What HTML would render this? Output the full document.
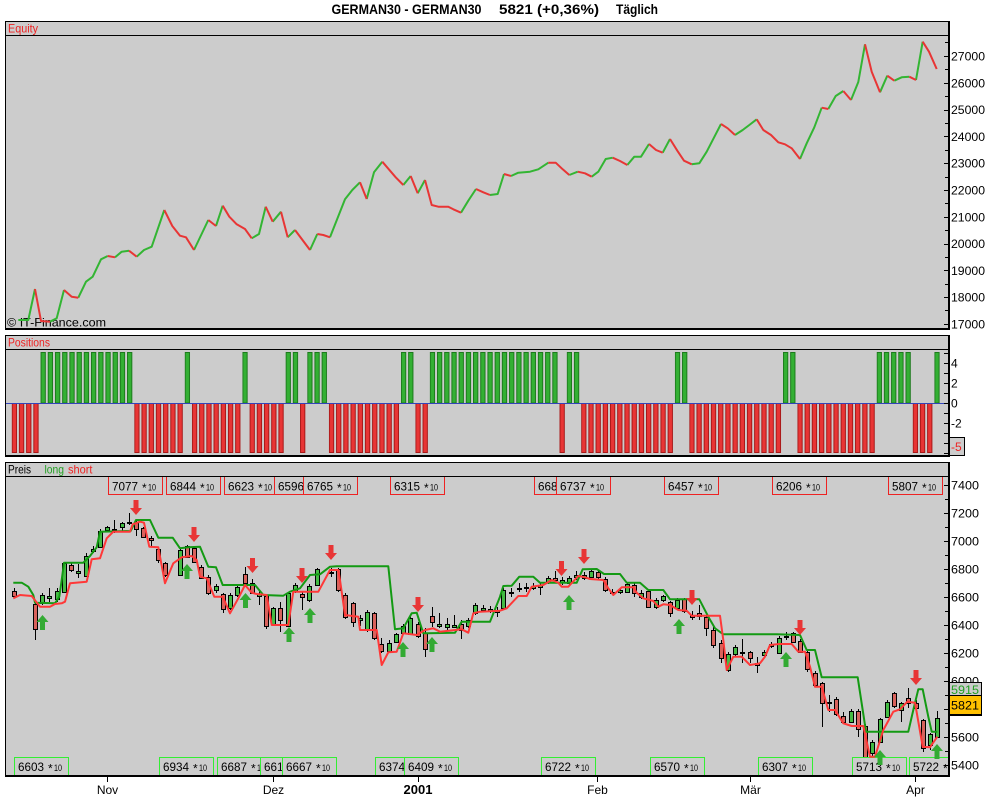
<!DOCTYPE html>
<html><head><meta charset="utf-8"><style>
html,body{margin:0;padding:0;background:#fff;}
svg{display:block;}
text{font-family:"Liberation Sans",sans-serif;}
</style></head><body>
<svg width="1000" height="800" viewBox="0 0 1000 800" xmlns="http://www.w3.org/2000/svg">
<defs>
<clipPath id="cp"><rect x="6" y="477" width="942" height="298"/></clipPath>
<pattern id="pg" patternUnits="userSpaceOnUse" x="11.7" y="0" width="7.208" height="800"><rect x="0.5" y="352.5" width="4.3" height="50.5" fill="#33b033" stroke="#1c7a1c"/></pattern>
<pattern id="pr" patternUnits="userSpaceOnUse" x="11.7" y="0" width="7.208" height="800"><rect x="0.5" y="403.5" width="4.3" height="49" fill="#e83535" stroke="#a81818"/></pattern>
</defs>
<rect width="1000" height="800" fill="#fff"/>

<!-- Title -->
<text x="331.5" y="14" font-size="14" font-weight="bold" textLength="150" lengthAdjust="spacingAndGlyphs">GERMAN30 - GERMAN30</text>
<text x="499" y="14" font-size="14" font-weight="bold" textLength="100" lengthAdjust="spacingAndGlyphs">5821 (+0,36%)</text>
<text x="616" y="14" font-size="14" font-weight="bold" textLength="42" lengthAdjust="spacingAndGlyphs">Täglich</text>

<!-- ===== Equity panel ===== -->
<rect x="5" y="21" width="945" height="309" fill="#cccccc"/>
<line x1="5" y1="21.5" x2="950" y2="21.5" stroke="#000"/>
<line x1="5.5" y1="21" x2="5.5" y2="330" stroke="#000"/>
<line x1="5" y1="35.5" x2="948" y2="35.5" stroke="#000"/>
<rect x="948" y="21" width="2" height="309" fill="#000"/>
<rect x="5" y="328" width="945" height="2" fill="#000"/>
<text x="8" y="32.5" font-size="12" fill="#ee2222" textLength="30" lengthAdjust="spacingAndGlyphs">Equity</text>
<text x="7" y="326.5" font-size="12" fill="#000" textLength="99" lengthAdjust="spacingAndGlyphs">© IT-Finance.com</text>

<g stroke="#000" stroke-width="1">
<path d="M944 56.5H950M944 83.5H950M944 110.5H950M944 136.5H950M944 163.5H950M944 190.5H950M944 217.5H950M944 244.5H950M944 270.5H950M944 297.5H950M944 324.5H950M945 42.5H950M945 69.5H950M945 96.5H950M945 123.5H950M945 150.5H950M945 177.5H950M945 203.5H950M945 230.5H950M945 257.5H950M945 284.5H950M945 310.5H950"/>
</g>
<g font-size="12" fill="#000">
<text x="951" y="60.5" textLength="34" lengthAdjust="spacingAndGlyphs">27000</text>
<text x="951" y="87.3" textLength="34" lengthAdjust="spacingAndGlyphs">26000</text>
<text x="951" y="114" textLength="34" lengthAdjust="spacingAndGlyphs">25000</text>
<text x="951" y="141" textLength="34" lengthAdjust="spacingAndGlyphs">24000</text>
<text x="951" y="167.7" textLength="34" lengthAdjust="spacingAndGlyphs">23000</text>
<text x="951" y="194.5" textLength="34" lengthAdjust="spacingAndGlyphs">22000</text>
<text x="951" y="221.3" textLength="34" lengthAdjust="spacingAndGlyphs">21000</text>
<text x="951" y="248" textLength="34" lengthAdjust="spacingAndGlyphs">20000</text>
<text x="951" y="275" textLength="34" lengthAdjust="spacingAndGlyphs">19000</text>
<text x="951" y="301.7" textLength="34" lengthAdjust="spacingAndGlyphs">18000</text>
<text x="951" y="328.5" textLength="34" lengthAdjust="spacingAndGlyphs">17000</text>
</g>

<g fill="none" stroke-width="2" stroke-linejoin="round">
<g stroke="#33b533">
<polyline points="18.3,320 28.3,320 35,289"/>
<polyline points="50,321.7 56.7,318.3 64,290"/>
<polyline points="78.3,297.7 86,281.7 92.7,276.7 101,259.3 107.7,256"/>
<polyline points="115,257.3 121.7,251.7 129,250.7"/>
<polyline points="136.7,256.7 144,250 151.7,246.7 164.3,210"/>
<polyline points="194,250 208.3,220"/>
<polyline points="216,226 222.7,205.7"/>
<polyline points="251.7,238.3 259,234 265.7,206.7"/>
<polyline points="272.7,221.7 281,211.7"/>
<polyline points="287.7,237.3 295,230"/>
<polyline points="310,250 317.3,234"/>
<polyline points="330,237.3 345,199.3 352.3,190 360,182.3"/>
<polyline points="366.7,199 374,172.3 382.3,161.7"/>
<polyline points="403.3,185 410.7,176"/>
<polyline points="417.7,193.3 425,180"/>
<polyline points="461,212.7 468.3,200.7 476,189"/>
<polyline points="490,195 497.7,194 504,174"/>
<polyline points="511,176 518.3,172.7 530,171.7 538.3,169.3 548.3,162.7"/>
<polyline points="569.3,175 577.7,171.7"/>
<polyline points="591.7,176.7 598.3,171.7 605.7,159 612.7,157.7"/>
<polyline points="627.3,165 634.3,156.7 641,156.7 649,144"/>
<polyline points="662.7,152.7 670,139"/>
<polyline points="691.7,164.3 699.3,163.3 706.7,151.7 721,124"/>
<polyline points="735,135 742.7,130 749.3,125 756.7,119.3"/>
<polyline points="800,159 806.7,143.3 814.3,127.3 821.7,107.7"/>
<polyline points="828.3,109 835.7,96 843.3,91"/>
<polyline points="851,100 858.3,82 865,44.3"/>
<polyline points="880,92.3 887.3,75.7"/>
<polyline points="894.3,80.7 901.7,77.3 909.3,76.7"/>
<polyline points="916,80 922.7,41.7"/>
</g>
<g stroke="#e83535">
<polyline points="35,289 41,321 50,321.7"/>
<polyline points="64,290 71.7,296.7 78.3,297.7"/>
<polyline points="107.7,256 115,257.3"/>
<polyline points="129,250.7 136.7,256.7"/>
<polyline points="164.3,210 172.3,226 180,235.7 186,237.3 194,250"/>
<polyline points="208.3,220 216,226"/>
<polyline points="222.7,205.7 229.3,216.7 236.7,224.3 245,229 251.7,238.3"/>
<polyline points="265.7,206.7 272.7,221.7"/>
<polyline points="281,211.7 287.7,237.3"/>
<polyline points="295,230 310,250"/>
<polyline points="317.3,234 323.3,235 330,237.3"/>
<polyline points="360,182.3 366.7,199"/>
<polyline points="382.3,161.7 395.7,177.3 403.3,185"/>
<polyline points="410.7,176 417.7,193.3"/>
<polyline points="425,180 431.7,205 438.3,206.7 448.3,206.7 453.3,209.3 461,212.7"/>
<polyline points="476,189 483.3,192.3 490,195"/>
<polyline points="504,174 511,176"/>
<polyline points="548.3,162.7 555.7,162.7 562.7,169.3 569.3,175"/>
<polyline points="577.7,171.7 585,173.3 591.7,176.7"/>
<polyline points="612.7,157.7 620,161 627.3,165"/>
<polyline points="649,144 656,150 662.7,152.7"/>
<polyline points="670,139 677.3,150.7 684,160.7 691.7,164.3"/>
<polyline points="721,124 727.7,128.3 735,135"/>
<polyline points="756.7,119.3 763.3,130 771,135 778.3,142.3 785,144.3 791.7,148.3 800,159"/>
<polyline points="821.7,107.7 828.3,109"/>
<polyline points="843.3,91 851,100"/>
<polyline points="865,44.3 871.7,71.7 880,92.3"/>
<polyline points="887.3,75.7 894.3,80.7"/>
<polyline points="909.3,76.7 916,80"/>
<polyline points="922.7,41.7 929,51.7 936.7,69"/>
</g>
</g>

<!-- ===== Positions panel ===== -->
<rect x="5" y="335" width="945" height="122" fill="#cccccc"/>
<line x1="5" y1="335.5" x2="950" y2="335.5" stroke="#000"/>
<line x1="5.5" y1="335" x2="5.5" y2="457" stroke="#000"/>
<line x1="5" y1="349.5" x2="948" y2="349.5" stroke="#000"/>
<rect x="948" y="335" width="2" height="122" fill="#000"/>
<rect x="5" y="455" width="945" height="2" fill="#000"/>
<text x="8" y="346.5" font-size="12" fill="#ee2222" textLength="42" lengthAdjust="spacingAndGlyphs">Positions</text>

<g fill="url(#pr)">
<rect x="11.7" y="403" width="27.3" height="50"/>
<rect x="134.24" y="403" width="49" height="50"/>
<rect x="191.9" y="403" width="49" height="50"/>
<rect x="249.56" y="403" width="34.5" height="50"/>
<rect x="300.02" y="403" width="5.7" height="50"/>
<rect x="328.85" y="403" width="70.6" height="50"/>
<rect x="415.35" y="403" width="12.9" height="50"/>
<rect x="559.51" y="403" width="5.7" height="50"/>
<rect x="581.13" y="403" width="92.2" height="50"/>
<rect x="689.25" y="403" width="92.2" height="50"/>
<rect x="797.37" y="403" width="77.8" height="50"/>
<rect x="912.7" y="403" width="20.1" height="50"/>
</g>
<g fill="url(#pg)">
<rect x="40.53" y="352" width="92.2" height="52"/>
<rect x="184.69" y="352" width="5.7" height="52"/>
<rect x="242.36" y="352" width="5.7" height="52"/>
<rect x="285.6" y="352" width="12.9" height="52"/>
<rect x="307.23" y="352" width="20.1" height="52"/>
<rect x="400.93" y="352" width="12.9" height="52"/>
<rect x="429.76" y="352" width="128.2" height="52"/>
<rect x="566.72" y="352" width="12.9" height="52"/>
<rect x="674.84" y="352" width="12.9" height="52"/>
<rect x="782.96" y="352" width="12.9" height="52"/>
<rect x="876.66" y="352" width="34.5" height="52"/>
<rect x="934.32" y="352" width="5.7" height="52"/>
</g>
<line x1="6" y1="403.5" x2="948" y2="403.5" stroke="#3344bb"/>

<path d="M944 353.5H950M944 363.5H950M944 373.5H950M944 383.5H950M944 393.5H950M944 403.5H950M944 413.5H950M944 423.5H950M944 433.5H950M944 443.5H950M944 453.5H950" stroke="#000"/>
<g font-size="12" fill="#000">
<text x="951" y="367.5">4</text>
<text x="951" y="387.5">2</text>
<text x="951" y="407.5">0</text>
<text x="951" y="427.5">-2</text>
</g>
<rect x="949.5" y="437.5" width="15" height="18" fill="#cccccc" stroke="#000"/>
<text x="951" y="451" font-size="12" fill="#ee2222">-5</text>

<!-- ===== Price panel ===== -->
<rect x="5" y="462" width="945" height="315" fill="#cccccc"/>
<line x1="5" y1="462.5" x2="950" y2="462.5" stroke="#000"/>
<line x1="5.5" y1="462" x2="5.5" y2="777" stroke="#000"/>
<line x1="5" y1="476.5" x2="948" y2="476.5" stroke="#000"/>
<text x="8" y="473.5" font-size="12" fill="#000" textLength="23" lengthAdjust="spacingAndGlyphs">Preis</text>
<text x="44.5" y="473.5" font-size="12" fill="#22a022" textLength="19.5" lengthAdjust="spacingAndGlyphs">long</text>
<text x="68" y="473.5" font-size="12" fill="#ee2222" textLength="24.5" lengthAdjust="spacingAndGlyphs">short</text>

<g clip-path="url(#cp)">
<!-- wicks -->
<path stroke="#000" stroke-width="1" fill="none" d="M14.5 588V598M35.5 603V640M42.5 593V605M49.5 588V602M57.5 588V602M64.5 562V593M71.5 563V572M78.5 564V578M86.5 553V577M93.5 546V553M100.5 529V548M107.5 526V532M114.5 520V533M122.5 522V532M129.5 513V525M136.5 520V536M143.5 527V538M151.5 536V546M158.5 547V563M165.5 562V577M180.5 548V576M187.5 545V558M194.5 547V563M201.5 565V579M208.5 575V595M216.5 584V593M223.5 593V613M230.5 593V610M237.5 585V597M245.5 567V585M252.5 579V594M259.5 590V605M266.5 595V629M273.5 607V625M280.5 602V632M288.5 592V627M295.5 583V593M302.5 592V610M309.5 584V602M317.5 568V586M331.5 568V577M338.5 568V592M345.5 593V619M353.5 602V627M360.5 615V626M367.5 610V632M374.5 612V640M381.5 638V653M389.5 640V652M396.5 633V643M403.5 624V634M410.5 616V635M418.5 622V638M425.5 628V657M432.5 607V627M439.5 613V628M447.5 618V630M454.5 615V628M461.5 620V639M468.5 618V628M475.5 603V615M483.5 605V612M490.5 606V613M497.5 607V617M503.5 588V610M511.5 588V597M519.5 583V592M526.5 583V592M533.5 583V590M540.5 582V595M548.5 576V584M555.5 571V583M562.5 577V585M569.5 576V585M576.5 571V580M584.5 572V580M591.5 569V578M598.5 571V579M605.5 577V592M612.5 589V595M620.5 588V594M627.5 583V593M634.5 583V597M641.5 590V599M648.5 589V608M656.5 598V609M663.5 595V602M670.5 601V617M677.5 598V610M684.5 598V613M692.5 611V620M699.5 605V620M706.5 615V636M713.5 627V648M721.5 640V663M728.5 652V672M735.5 645V657M742.5 639V663M750.5 651V663M757.5 657V673M764.5 650V657M771.5 642V648M779.5 636V654M786.5 632V640M793.5 632V643M800.5 639V653M807.5 650V672M815.5 671V687M822.5 682V727M829.5 695V712M836.5 697V716M843.5 712V723M851.5 709V723M858.5 709V737M865.5 724V766M872.5 740V760M880.5 718V743M887.5 700V718M894.5 692V708M901.5 702V722M908.5 688V708M916.5 700V712M923.5 719V752M930.5 733V750M937.5 711V738"/>
<!-- green bodies -->
<path fill="#44bb44" stroke="#000" stroke-width="1" d="M40.5 595.5h4v8h-4zM47.5 596.5h4v2h-4zM55.5 591.5h4v8h-4zM62.5 563.5h4v29h-4zM76.5 571.5h4v2h-4zM84.5 556.5h4v20h-4zM91.5 549.5h4v2h-4zM98.5 531.5h4v16h-4zM105.5 527.5h4v3h-4zM112.5 529.5h4v1h-4zM120.5 523.5h4v4h-4zM127.5 522.5h4v1h-4zM178.5 550.5h4v25h-4zM214.5 586.5h4v4h-4zM228.5 595.5h4v13h-4zM235.5 587.5h4v8h-4zM257.5 594.5h4v2h-4zM271.5 608.5h4v16h-4zM286.5 593.5h4v33h-4zM293.5 585.5h4v6h-4zM307.5 586.5h4v14h-4zM315.5 569.5h4v16h-4zM329.5 572.5h4v1h-4zM358.5 618.5h4v2h-4zM365.5 612.5h4v18h-4zM387.5 643.5h4v8h-4zM394.5 634.5h4v8h-4zM401.5 626.5h4v7h-4zM408.5 618.5h4v16h-4zM437.5 624.5h4v2h-4zM445.5 624.5h4v3h-4zM452.5 625.5h4v2h-4zM466.5 620.5h4v6h-4zM473.5 605.5h4v8h-4zM481.5 608.5h4v2h-4zM488.5 609.5h4v2h-4zM495.5 610.5h4v2h-4zM501.5 590.5h4v18h-4zM509.5 592.5h4v1h-4zM517.5 588.5h4v1h-4zM524.5 587.5h4v1h-4zM531.5 586.5h4v2h-4zM538.5 585.5h4v2h-4zM546.5 578.5h4v4h-4zM560.5 580.5h4v2h-4zM567.5 578.5h4v5h-4zM574.5 575.5h4v2h-4zM582.5 575.5h4v3h-4zM589.5 571.5h4v6h-4zM610.5 592.5h4v1h-4zM618.5 590.5h4v2h-4zM625.5 584.5h4v8h-4zM639.5 593.5h4v4h-4zM654.5 600.5h4v7h-4zM661.5 596.5h4v4h-4zM675.5 600.5h4v8h-4zM726.5 654.5h4v16h-4zM733.5 647.5h4v7h-4zM740.5 652.5h4v1h-4zM762.5 652.5h4v3h-4zM769.5 644.5h4v2h-4zM777.5 638.5h4v15h-4zM784.5 636.5h4v1h-4zM827.5 702.5h4v1h-4zM849.5 711.5h4v11h-4zM870.5 742.5h4v11h-4zM878.5 719.5h4v23h-4zM885.5 702.5h4v15h-4zM899.5 703.5h4v7h-4zM928.5 734.5h4v11h-4zM935.5 718.5h4v19h-4z"/>
<!-- red bodies -->
<path fill="#d8625c" stroke="#000" stroke-width="1" d="M12.5 591.5h4v5h-4zM33.5 604.5h4v25h-4zM69.5 565.5h4v5h-4zM134.5 522.5h4v7h-4zM141.5 528.5h4v9h-4zM149.5 538.5h4v2h-4zM156.5 549.5h4v11h-4zM163.5 563.5h4v12h-4zM185.5 546.5h4v11h-4zM192.5 548.5h4v14h-4zM199.5 567.5h4v11h-4zM206.5 577.5h4v16h-4zM221.5 594.5h4v15h-4zM243.5 574.5h4v9h-4zM250.5 583.5h4v10h-4zM264.5 596.5h4v30h-4zM278.5 608.5h4v12h-4zM300.5 594.5h4v3h-4zM336.5 569.5h4v21h-4zM343.5 595.5h4v22h-4zM351.5 603.5h4v19h-4zM372.5 613.5h4v25h-4zM379.5 644.5h4v7h-4zM416.5 624.5h4v12h-4zM423.5 633.5h4v16h-4zM430.5 616.5h4v6h-4zM459.5 624.5h4v6h-4zM553.5 578.5h4v2h-4zM596.5 572.5h4v5h-4zM603.5 579.5h4v11h-4zM632.5 585.5h4v8h-4zM646.5 591.5h4v16h-4zM668.5 602.5h4v11h-4zM682.5 599.5h4v12h-4zM690.5 615.5h4v2h-4zM697.5 613.5h4v3h-4zM704.5 617.5h4v11h-4zM711.5 630.5h4v15h-4zM719.5 643.5h4v15h-4zM748.5 652.5h4v6h-4zM755.5 663.5h4v2h-4zM791.5 633.5h4v9h-4zM798.5 641.5h4v11h-4zM805.5 652.5h4v17h-4zM813.5 673.5h4v12h-4zM820.5 683.5h4v20h-4zM834.5 699.5h4v15h-4zM841.5 716.5h4v6h-4zM856.5 711.5h4v18h-4zM863.5 726.5h4v36h-4zM892.5 693.5h4v13h-4zM906.5 698.5h4v5h-4zM914.5 703.5h4v5h-4zM921.5 720.5h4v28h-4z"/>

<!-- label boxes top (red) -->
<g font-size="12" fill="#000">
<g><rect x="108.5" y="476.5" width="54" height="18" fill="#cccccc" stroke="#ee2222"/><text x="112" y="490.5" textLength="26" lengthAdjust="spacingAndGlyphs">7077</text><text x="142" y="492">*</text><text x="148" y="490.5" font-size="9" textLength="8" lengthAdjust="spacingAndGlyphs">10</text></g>
<g><rect x="166.5" y="476.5" width="54" height="18" fill="#cccccc" stroke="#ee2222"/><text x="170" y="490.5" textLength="26" lengthAdjust="spacingAndGlyphs">6844</text><text x="200" y="492">*</text><text x="206" y="490.5" font-size="9" textLength="8" lengthAdjust="spacingAndGlyphs">10</text></g>
<g><rect x="224.5" y="476.5" width="54" height="18" fill="#cccccc" stroke="#ee2222"/><text x="228" y="490.5" textLength="26" lengthAdjust="spacingAndGlyphs">6623</text><text x="258" y="492">*</text><text x="264" y="490.5" font-size="9" textLength="8" lengthAdjust="spacingAndGlyphs">10</text></g>
<g><rect x="274.5" y="476.5" width="54" height="18" fill="#cccccc" stroke="#ee2222"/><text x="278" y="490.5" textLength="26" lengthAdjust="spacingAndGlyphs">6596</text><text x="308" y="492">*</text><text x="314" y="490.5" font-size="9" textLength="8" lengthAdjust="spacingAndGlyphs">10</text></g>
<g><rect x="303.5" y="476.5" width="54" height="18" fill="#cccccc" stroke="#ee2222"/><text x="307" y="490.5" textLength="26" lengthAdjust="spacingAndGlyphs">6765</text><text x="337" y="492">*</text><text x="343" y="490.5" font-size="9" textLength="8" lengthAdjust="spacingAndGlyphs">10</text></g>
<g><rect x="390.5" y="476.5" width="54" height="18" fill="#cccccc" stroke="#ee2222"/><text x="394" y="490.5" textLength="26" lengthAdjust="spacingAndGlyphs">6315</text><text x="424" y="492">*</text><text x="430" y="490.5" font-size="9" textLength="8" lengthAdjust="spacingAndGlyphs">10</text></g>
<g><rect x="534.5" y="476.5" width="54" height="18" fill="#cccccc" stroke="#ee2222"/><text x="538" y="490.5" textLength="26" lengthAdjust="spacingAndGlyphs">6686</text><text x="568" y="492">*</text><text x="574" y="490.5" font-size="9" textLength="8" lengthAdjust="spacingAndGlyphs">10</text></g>
<g><rect x="556.5" y="476.5" width="54" height="18" fill="#cccccc" stroke="#ee2222"/><text x="560" y="490.5" textLength="26" lengthAdjust="spacingAndGlyphs">6737</text><text x="590" y="492">*</text><text x="596" y="490.5" font-size="9" textLength="8" lengthAdjust="spacingAndGlyphs">10</text></g>
<g><rect x="664.5" y="476.5" width="54" height="18" fill="#cccccc" stroke="#ee2222"/><text x="668" y="490.5" textLength="26" lengthAdjust="spacingAndGlyphs">6457</text><text x="698" y="492">*</text><text x="704" y="490.5" font-size="9" textLength="8" lengthAdjust="spacingAndGlyphs">10</text></g>
<g><rect x="772.5" y="476.5" width="54" height="18" fill="#cccccc" stroke="#ee2222"/><text x="776" y="490.5" textLength="26" lengthAdjust="spacingAndGlyphs">6206</text><text x="806" y="492">*</text><text x="812" y="490.5" font-size="9" textLength="8" lengthAdjust="spacingAndGlyphs">10</text></g>
<g><rect x="888.5" y="476.5" width="54" height="18" fill="#cccccc" stroke="#ee2222"/><text x="892" y="490.5" textLength="26" lengthAdjust="spacingAndGlyphs">5807</text><text x="922" y="492">*</text><text x="928" y="490.5" font-size="9" textLength="8" lengthAdjust="spacingAndGlyphs">10</text></g>
</g>

<!-- label boxes bottom (green) -->
<g font-size="12" fill="#000">
<g><rect x="14.5" y="757.5" width="54" height="18" fill="#cccccc" stroke="#33ee33"/><text x="18" y="771" textLength="26" lengthAdjust="spacingAndGlyphs">6603</text><text x="48" y="772.5">*</text><text x="54" y="771" font-size="9" textLength="8" lengthAdjust="spacingAndGlyphs">10</text></g>
<g><rect x="159.5" y="757.5" width="54" height="18" fill="#cccccc" stroke="#33ee33"/><text x="163" y="771" textLength="26" lengthAdjust="spacingAndGlyphs">6934</text><text x="193" y="772.5">*</text><text x="199" y="771" font-size="9" textLength="8" lengthAdjust="spacingAndGlyphs">10</text></g>
<g><rect x="217.5" y="757.5" width="54" height="18" fill="#cccccc" stroke="#33ee33"/><text x="221" y="771" textLength="26" lengthAdjust="spacingAndGlyphs">6687</text><text x="251" y="772.5">*</text><text x="257" y="771" font-size="9" textLength="8" lengthAdjust="spacingAndGlyphs">10</text></g>
<g><rect x="260.5" y="757.5" width="54" height="18" fill="#cccccc" stroke="#33ee33"/><text x="264" y="771" textLength="26" lengthAdjust="spacingAndGlyphs">6616</text><text x="294" y="772.5">*</text><text x="300" y="771" font-size="9" textLength="8" lengthAdjust="spacingAndGlyphs">10</text></g>
<g><rect x="282.5" y="757.5" width="54" height="18" fill="#cccccc" stroke="#33ee33"/><text x="286" y="771" textLength="26" lengthAdjust="spacingAndGlyphs">6667</text><text x="316" y="772.5">*</text><text x="322" y="771" font-size="9" textLength="8" lengthAdjust="spacingAndGlyphs">10</text></g>
<g><rect x="375.5" y="757.5" width="54" height="18" fill="#cccccc" stroke="#33ee33"/><text x="379" y="771" textLength="26" lengthAdjust="spacingAndGlyphs">6374</text><text x="409" y="772.5">*</text><text x="415" y="771" font-size="9" textLength="8" lengthAdjust="spacingAndGlyphs">10</text></g>
<g><rect x="404.5" y="757.5" width="54" height="18" fill="#cccccc" stroke="#33ee33"/><text x="408" y="771" textLength="26" lengthAdjust="spacingAndGlyphs">6409</text><text x="438" y="772.5">*</text><text x="444" y="771" font-size="9" textLength="8" lengthAdjust="spacingAndGlyphs">10</text></g>
<g><rect x="541.5" y="757.5" width="54" height="18" fill="#cccccc" stroke="#33ee33"/><text x="545" y="771" textLength="26" lengthAdjust="spacingAndGlyphs">6722</text><text x="575" y="772.5">*</text><text x="581" y="771" font-size="9" textLength="8" lengthAdjust="spacingAndGlyphs">10</text></g>
<g><rect x="650.5" y="757.5" width="54" height="18" fill="#cccccc" stroke="#33ee33"/><text x="654" y="771" textLength="26" lengthAdjust="spacingAndGlyphs">6570</text><text x="684" y="772.5">*</text><text x="690" y="771" font-size="9" textLength="8" lengthAdjust="spacingAndGlyphs">10</text></g>
<g><rect x="758.5" y="757.5" width="54" height="18" fill="#cccccc" stroke="#33ee33"/><text x="762" y="771" textLength="26" lengthAdjust="spacingAndGlyphs">6307</text><text x="792" y="772.5">*</text><text x="798" y="771" font-size="9" textLength="8" lengthAdjust="spacingAndGlyphs">10</text></g>
<g><rect x="852.5" y="757.5" width="54" height="18" fill="#cccccc" stroke="#33ee33"/><text x="856" y="771" textLength="26" lengthAdjust="spacingAndGlyphs">5713</text><text x="886" y="772.5">*</text><text x="892" y="771" font-size="9" textLength="8" lengthAdjust="spacingAndGlyphs">10</text></g>
<g><rect x="909.5" y="757.5" width="54" height="18" fill="#cccccc" stroke="#33ee33"/><text x="913" y="771" textLength="26" lengthAdjust="spacingAndGlyphs">5722</text><text x="943" y="772.5">*</text><text x="949" y="771" font-size="9" textLength="8" lengthAdjust="spacingAndGlyphs">10</text></g>
</g>

<!-- indicator lines -->
<polyline fill="none" stroke="#139a13" stroke-width="2" stroke-linejoin="round" points="13.3,582.7 21.7,582.7 28.3,586.7 33.3,595 35,602.7 55,603.3 59.3,596.7 61.7,580 64,562.7 83.3,562.7 90,556 96.7,547.3 100,531.7 130.7,531 136,520 150,520 158.3,537.7 172.7,537.7 180,548.3 188.3,547.3 200,546.7 208.3,566.7 216,567.3 222.7,585 255,585 263.3,595 283.3,595.7 290,591.7 300,588.3 310,575 320,574.3 330,566.7 336.7,566.3 388.3,566.3 395,629.3 403.3,628.3 411.7,613.3 416.7,612.7 423.3,633.3 428,633.3 455,632.7 461.7,621.7 490,621.7 500,596.7 503.3,586 511.7,585.7 519.3,576.7 533.3,576.7 540,582.7 576.7,582.7 582.7,569.3 596.7,569 604,574 620,574 626.7,582.7 640,582.7 648.3,590 663.3,590 670,599.3 699.3,599.3 708.3,616.7 715,628.3 723.3,634.3 776.7,634.3 800,635 806.7,650 815,650 821.7,677.3 857.7,677.3 866,731.7 908.3,731.7 913.3,710 918.3,689.3 922.7,689.3 928.3,716.7 931.7,731.7 937.3,731.7"/>
<polyline fill="none" stroke="#ff3838" stroke-width="2" stroke-linejoin="round" points="13.3,598.3 20,595 31.7,596 40,606.7 50,606.7 55,604 61.7,603.3 65,601.7 70,583.3 86.7,581.7 91.7,559.3 100,558.3 106.7,538.3 113.3,531.7 130,531.7 132.7,524.3 140,521.7 144,522.7 149.3,546.7 158.3,547.3 165,583.3 173.3,563.3 181.7,557.3 191.7,556 196.7,560 200,576.7 206.7,578.3 214.3,596.7 222.7,596.7 230,613.3 238.3,598.3 245,585 251.7,592.7 256.7,594 266.7,595 271.7,625 288.3,625 293.3,591.7 318.3,591.7 330,570 338.3,570 340,580 345,615 358.3,616.7 360,630 376.7,630 381.7,665 388.3,652.3 396.7,651.7 403.3,633.3 416.7,635 425,630 433.3,628.3 440,631.7 461.7,629.3 468.3,632.7 473.3,613.3 480,611.7 500,610.7 506.7,608.3 518.3,596 526.7,596 531.7,586.7 543.3,585 551.7,580 558.3,582.7 561.7,586.7 568.3,586.7 578.3,576 585,577.3 590,579 603.3,580 608.3,588.3 613.3,595 621.7,587.3 633.3,587.3 636.7,592.7 643.3,598.3 653.3,601 658.3,606.7 663.3,604.3 670,605 678.3,610 686.7,610.7 691.7,615.7 720,615.7 723.3,640 726.7,670 733.3,656.7 741.7,656.7 750,665 760,663.3 765,656.7 770,645 779.3,644 791.7,644 798.3,651.7 805,651.7 810,666.7 815,686.7 821.7,686.7 828.3,710 835,710 843.3,723.3 851.7,726 863.3,726 870,756.7 875,756.7 883.3,730 893.3,711.7 900,709.3 907.3,701.7 915,702.7 922.7,746.7 930,747.3 937.3,736.7"/>

<!-- arrows -->
<g fill="#e83535">
<path d="M133.5 500h5v8h3.5l-6 7l-6 -7h3.5z"/>
<path d="M191.5 527h5v8h3.5l-6 7l-6 -7h3.5z"/>
<path d="M250 558h5v8h3.5l-6 7l-6 -7h3.5z"/>
<path d="M299.5 568h5v8h3.5l-6 7l-6 -7h3.5z"/>
<path d="M328.5 545h5v8h3.5l-6 7l-6 -7h3.5z"/>
<path d="M415.5 597h5v8h3.5l-6 7l-6 -7h3.5z"/>
<path d="M559 561h5v8h3.5l-6 7l-6 -7h3.5z"/>
<path d="M581.5 549h5v8h3.5l-6 7l-6 -7h3.5z"/>
<path d="M689.5 590h5v8h3.5l-6 7l-6 -7h3.5z"/>
<path d="M797.5 620h5v8h3.5l-6 7l-6 -7h3.5z"/>
<path d="M913.5 670h5v8h3.5l-6 7l-6 -7h3.5z"/>
</g>
<g fill="#33aa33">
<path d="M42.5 615l6 7h-3.5v8h-5v-8h-3.5z"/>
<path d="M187 564l6 7h-3.5v8h-5v-8h-3.5z"/>
<path d="M245.5 593l6 7h-3.5v8h-5v-8h-3.5z"/>
<path d="M310 608l6 7h-3.5v8h-5v-8h-3.5z"/>
<path d="M289 627l6 7h-3.5v8h-5v-8h-3.5z"/>
<path d="M403 642l6 7h-3.5v8h-5v-8h-3.5z"/>
<path d="M432 637l6 7h-3.5v8h-5v-8h-3.5z"/>
<path d="M569 595l6 7h-3.5v8h-5v-8h-3.5z"/>
<path d="M679 619l6 7h-3.5v8h-5v-8h-3.5z"/>
<path d="M786 652l6 7h-3.5v8h-5v-8h-3.5z"/>
<path d="M880 750l6 7h-3.5v8h-5v-8h-3.5z"/>
<path d="M937 744l6 7h-3.5v8h-5v-8h-3.5z"/>
</g>
</g>

<rect x="948" y="462" width="2" height="315" fill="#000"/>
<rect x="5" y="775" width="945" height="2" fill="#000"/>

<!-- price axis -->
<path stroke="#000" d="M944 485.5H950M944 513.5H950M944 541.5H950M944 569.5H950M944 597.5H950M944 625.5H950M944 653.5H950M944 681.5H950M944 709.5H950M944 737.5H950M944 765.5H950M945 499.5H950M945 527.5H950M945 555.5H950M945 583.5H950M945 611.5H950M945 639.5H950M945 667.5H950M945 695.5H950M945 723.5H950M945 751.5H950"/>
<g font-size="12" fill="#000">
<text x="951" y="489.5" textLength="28" lengthAdjust="spacingAndGlyphs">7400</text>
<text x="951" y="517.5" textLength="28" lengthAdjust="spacingAndGlyphs">7200</text>
<text x="951" y="545.5" textLength="28" lengthAdjust="spacingAndGlyphs">7000</text>
<text x="951" y="573.5" textLength="28" lengthAdjust="spacingAndGlyphs">6800</text>
<text x="951" y="601.5" textLength="28" lengthAdjust="spacingAndGlyphs">6600</text>
<text x="951" y="629.5" textLength="28" lengthAdjust="spacingAndGlyphs">6400</text>
<text x="951" y="657.5" textLength="28" lengthAdjust="spacingAndGlyphs">6200</text>
<text x="951" y="685.5" textLength="28" lengthAdjust="spacingAndGlyphs">6000</text>
<text x="951" y="713.5" textLength="28" lengthAdjust="spacingAndGlyphs">5800</text>
<text x="951" y="741.5" textLength="28" lengthAdjust="spacingAndGlyphs">5600</text>
<text x="951" y="769.5" textLength="28" lengthAdjust="spacingAndGlyphs">5400</text>
</g>
<rect x="949.5" y="682.5" width="32" height="13" fill="#cccccc" stroke="#000"/>
<text x="951" y="694" font-size="12" fill="#22a022" textLength="28" lengthAdjust="spacingAndGlyphs">5915</text>
<rect x="949.5" y="695.5" width="32" height="19" fill="#ffc000" stroke="#000"/>
<rect x="949" y="714" width="33" height="2" fill="#000"/>
<text x="951" y="709.5" font-size="12" fill="#000" textLength="28" lengthAdjust="spacingAndGlyphs">5821</text>

<!-- x axis -->
<path stroke="#000" d="M107.5 777V782M273.5 777V782M418.5 777V782M597.5 777V782M750.5 777V782M915.5 777V782"/>
<g font-size="12" fill="#000" text-anchor="middle">
<text x="107.5" y="794">Nov</text>
<text x="273.5" y="794">Dez</text>
<text x="418" y="794" font-weight="bold" font-size="13">2001</text>
<text x="597.5" y="794">Feb</text>
<text x="750.5" y="794">Mär</text>
<text x="915.5" y="794">Apr</text>
</g>
</svg>
</body></html>
